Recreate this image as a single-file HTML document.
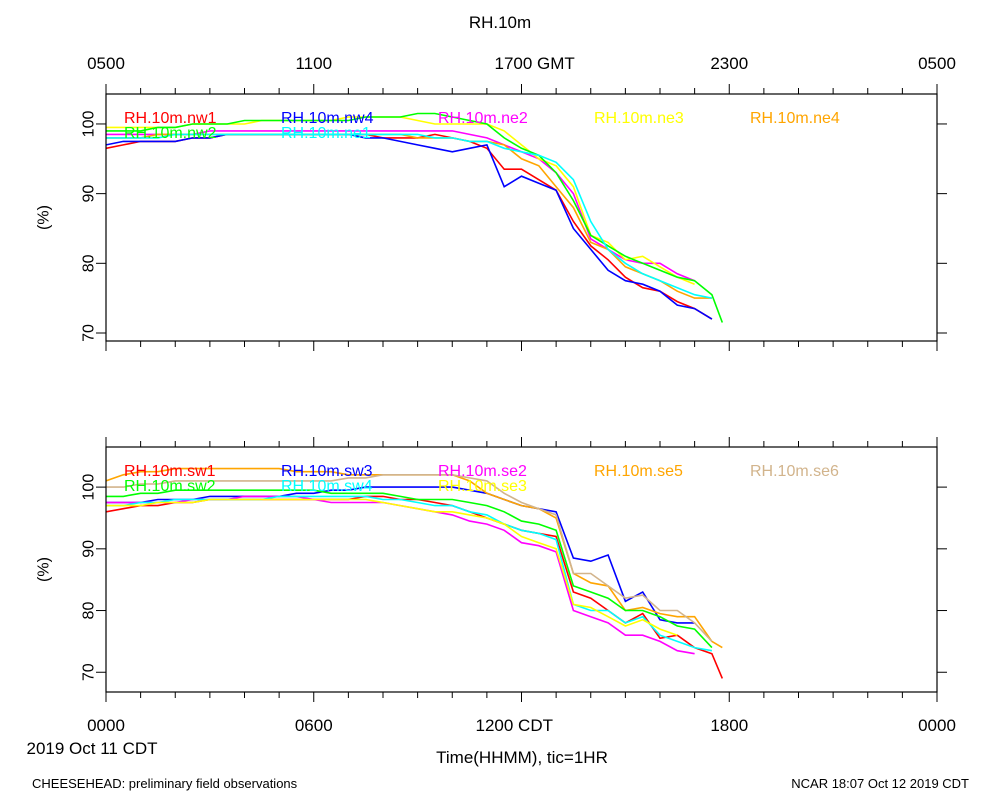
<!DOCTYPE html>
<html><head><meta charset="utf-8"><style>
body{margin:0;background:#fff}
svg{display:block;font-family:"Liberation Sans",sans-serif}
</style></head><body>
<svg id="c" width="1000" height="800"></svg>
<script>
const times = [0,0.5,1,1.5,2,2.5,3,3.5,4,4.5,5,5.5,6,6.5,7,7.5,8,8.5,9,9.5,10,10.5,11,11.5,12,12.5,13,13.5,14,14.5,15,15.5,16,16.5,17,17.5,17.8];
const topNames = ["RH.10m.nw1","RH.10m.nw4","RH.10m.ne2","RH.10m.ne3","RH.10m.ne4","RH.10m.nw2","RH.10m.ne1"];
const topColors = ["#ff0000","#0000ff","#ff00ff","#ffff00","#ffa500","#00ff00","#00ffff"];
const nw1 = [96.5,97,97.5,97.5,97.5,98,98,98.5,98.5,98.5,98.5,98.5,98.5,98.5,98.5,98.5,98,98,98,98.5,98,97.5,96.5,93.5,93.5,92,90.5,86,82.5,80.5,78,76.5,76,74.5,73.5,72];
const nw4 = [97,97.5,97.5,97.5,97.5,98,98,98.5,98.5,98.5,98.5,98.5,98.5,98.5,98.5,98,98,97.5,97,96.5,96,96.5,97,91,92.5,91.5,90.5,85,82,79,77.5,77,76,74,73.5,72];
const ne2 = [98.5,98.5,98.5,98.5,98.5,98.5,99,99,99,99,99,99,99,99,99,99,99,99,99,99,99,98.5,98,97,96,95,93,90,83.5,82,80.5,80,80,78.5,77.5];
const ne3 = [99.5,99.5,99.5,99.5,99.5,100,100,100,100,100.5,100.5,100.5,100.5,100.5,101,101,101,101,100.5,100,100,100,100,99,97,95,94,91,84,83,80.5,81,79.5,78,77];
const ne4 = [98,98,98,98.5,98.5,98.5,98.5,98.5,98.5,98.5,98.5,98.5,98.5,98.5,98.5,98.5,98.5,98.5,98,98,98,97.5,97.5,97,95,94,91,88,83,82,79.5,78.5,77.5,76,75,75];
const nw2 = [99,99,99,99.5,99.5,100,100,100,100.5,100.5,100.5,100.5,100.5,100.5,100.5,101,101,101,101.5,101.5,101,100.5,100,98,96.5,95.5,93,89,84,82.5,81,80,79,78,77.5,75.5,71.5];
const ne1 = [98,98,98,98,98.5,98.5,98.5,98.5,98.5,98.5,98.5,98.5,98.5,98.5,98.5,98.5,98.5,98.5,98.5,98,98,97.5,97.5,96.5,96,95.5,94.5,92,86,82,80,78.5,77.5,76.5,75.5,75];
const topSeries = [nw1,nw4,ne2,ne3,ne4,nw2,ne1];

const botNames = ["RH.10m.sw1","RH.10m.sw3","RH.10m.se2","RH.10m.se5","RH.10m.se6","RH.10m.sw2","RH.10m.sw4","RH.10m.se3"];
const botColors = ["#ff0000","#0000ff","#ff00ff","#ffa500","#d2b48c","#00ff00","#00ffff","#ffff00"];
const sw1 = [96,96.5,97,97,97.5,97.5,98,98,98,98,98,98,98,98,98,98.5,98.5,98,98,97.5,97,96,95,94,93,92.5,92,83,82,80,78,79.5,75.5,76,74,73,69];
const sw3 = [97.5,97.5,97.5,98,98,98,98.5,98.5,98.5,98.5,98.5,99,99,99.5,99.5,100,100,100,100,100,100,99.5,99,98,97,96.5,96,88.5,88,89,81.5,83,78.5,78,78];
const se2 = [97.5,97.5,97.5,97.5,97.5,98,98,98,98.5,98.5,98.5,98.5,98,97.5,97.5,97.5,97.5,97,96.5,96,95.5,94.5,94,93,91,90.5,89.5,80,79,78,76,76,75,73.5,73];
const se5 = [101,102,102.5,102.5,103,103,103,103,103,103,103,102.5,102.5,102.5,102,102,102,102,102,102,102,101,99,98,97,96.5,95,86,84.5,84,80,80.5,79.5,79,79,75,74];
const se6 = [100,100,100.5,100.5,101,101,101,101,101,101,101,101,101,101,101.5,101.5,102,102,102,102,102,101.5,101,99,97.5,96.5,95.5,86,86,84,82,82.5,80,80,78,75];
const sw2 = [98.5,98.5,99,99,99.5,99.5,99.5,99.5,99.5,99.5,99.5,99.5,99.5,99,99,99,99,98.5,98,98,98,97.5,97,96,94.5,94,93,84,83,82,80,80,79,77.5,77,74];
const sw4 = [97,97,97.5,97.5,98,98,98,98,98,98,98.5,98.5,98.5,98.5,98.5,98.5,98,98,97.5,97,97,96,95.5,94,93,92.5,91.5,81,80,80,78,79,76,75,74,73.5];
const se3 = [97,97,97,97.5,97.5,97.5,98,98,98,98,98,98,98,98,98,98,97.5,97,96.5,96,96,95.5,95,94,92,91,90,81,80.5,79,77.5,78.5,77,76];
const botSeries = [sw1,sw3,se2,se5,se6,sw2,sw4,se3];
const yTicks = [70,80,90,100];
const cdtLabels = ["0000","0600","1200 CDT","1800","0000"];
const gmtLabels = ["0500","1100","1700 GMT","2300","0500"];

const NS="http://www.w3.org/2000/svg";
const svg=document.getElementById('c');
function mk(tag,attrs,parent){const e=document.createElementNS(NS,tag);for(const k in attrs)e.setAttribute(k,attrs[k]);(parent||svg).appendChild(e);return e;}
const X0=106,X1=937;
const xs=h=>X0+(X1-X0)*h/24;

function panel(top,bot,ymin,ymax,names,colors,series,legX,legY,pname){
  const g=mk('g',{});
  
  
  const ys=v=>bot-(v-ymin)/(ymax-ymin)*(bot-top);
  const cp=mk('clipPath',{id:'cp'+top},g);
  mk('rect',{x:X0,y:top,width:X1-X0,height:bot-top},cp);
  series.forEach((s,i)=>{
    const d=s.map((v,j)=>(j?'L':'M')+xs(times[j]).toFixed(1)+','+ys(v).toFixed(1)).join('');
    const p=mk('path',{d:d,fill:'none',stroke:colors[i],'stroke-width':1.6,'clip-path':'url(#cp'+top+')'},g);
    
    
  });
  const fr=mk('rect',{x:X0,y:top,width:X1-X0,height:bot-top,fill:'none',stroke:'#000','stroke-width':1.2},g);
  
  
  for(let h=0;h<=24;h++){
    const L=h%6==0?10:6;
    mk('line',{x1:xs(h),x2:xs(h),y1:top,y2:top-L,stroke:'#000'},g);
    mk('line',{x1:xs(h),x2:xs(h),y1:bot,y2:bot+L,stroke:'#000'},g);
  }
  yTicks.forEach(v=>{
    mk('line',{x1:X0,x2:X0-10,y1:ys(v),y2:ys(v),stroke:'#000'},g);
    mk('line',{x1:X1,x2:X1+10,y1:ys(v),y2:ys(v),stroke:'#000'},g);
    const t=mk('text',{x:X0-17,y:ys(v),'font-size':16,'text-anchor':'middle','dominant-baseline':'central',transform:`rotate(-90 ${X0-17} ${ys(v)})`},g);
    t.textContent=v;
    
    
  });
  const yt=mk('text',{x:44,y:(top+bot)/2,'font-size':16,'text-anchor':'middle','dominant-baseline':'central',transform:`rotate(-90 44 ${(top+bot)/2})`},g);
  yt.textContent='(%)';
  
  
  names.forEach((n,i)=>{
    const row=i<5?0:1, col=i<5?i:i-5;
    const t=mk('text',{x:legX[col],y:legY[row],'font-size':16,fill:colors[i]},g);
    t.textContent=n;
    
    
  });
}
const legX=[124,281,438,594,750];
panel(94,341,68.85,104.3,topNames,topColors,topSeries,legX,[123,138],'top-panel');
panel(447,692,66.8,106.5,botNames,botColors,botSeries,legX,[476,491],'bottom-panel');

function txt(x,y,s,size,anchor,name){const t=mk('text',{x:x,y:y,'font-size':size,'text-anchor':anchor});t.textContent=s;return t;}
txt(500,28,'RH.10m',17,'middle','chart-title');
gmtLabels.forEach((s,i)=>{const t=txt(xs(i*6),69,s,17,'middle','gmt-tick-label');if(i==2){t.setAttribute('x',xs(12)-27);t.setAttribute('text-anchor','start');}});
cdtLabels.forEach((s,i)=>{const t=txt(xs(i*6),731,s,17,'middle','cdt-tick-label');if(i==2){t.setAttribute('x',xs(12)-46);t.setAttribute('text-anchor','start');}});
txt(92,754,'2019 Oct 11 CDT',17,'middle','date-label');
txt(522,763,'Time(HHMM), tic=1HR',17,'middle','x-axis-title');
txt(32,788,'CHEESEHEAD: preliminary field observations',13,'start','footer-left');
txt(969,788,'NCAR 18:07 Oct 12 2019 CDT',13,'end','footer-right');
</script>
</body></html>
